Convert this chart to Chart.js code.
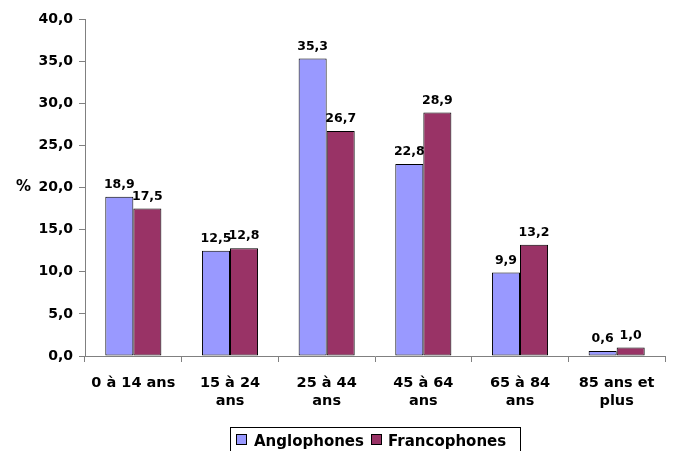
<!DOCTYPE html>
<html lang="fr">
<head>
    <meta charset="UTF-8">
    <title>Anglophones et Francophones par groupe d'âge</title>
    <script src="https://cdn.jsdelivr.net/npm/chart.js"></script>
    <style>
        html, body { margin: 0; padding: 0; background: #fff; }
        #wrap { width: 674px; height: 451px; position: relative; }
    </style>
</head>
<body>
    <div id="wrap"><canvas id="graph"></canvas></div>

    <script>
        const categories = [["0 à 14 ans"], ["15 à 24", "ans"], ["25 à 44", "ans"], ["45 à 64", "ans"], ["65 à 84", "ans"], ["85 ans et", "plus"]];
        const seriesNames = ["Anglophones", "Francophones"];
        const anglophones = [18.9, 12.5, 35.3, 22.8, 9.9, 0.6];
        const francophones = [17.5, 12.8, 26.7, 28.9, 13.2, 1.0];
        const colors = ["#9999FF", "#993366"];

        const FONT = "'DejaVu Sans', sans-serif";
        const fmt = v => v.toFixed(1).replace(".", ",");

        // value labels above bars, "%" next to the y axis, boxed legend at the bottom
        const extras = {
            id: "extras",
            afterDatasetsDraw(chart) {
                const ctx = chart.ctx;
                ctx.save();
                ctx.fillStyle = "#000";
                ctx.font = "bold 12.5px " + FONT;
                ctx.textAlign = "center";
                ctx.textBaseline = "alphabetic";
                chart.data.datasets.forEach((ds, i) => {
                    chart.getDatasetMeta(i).data.forEach((bar, j) => {
                        ctx.fillText(fmt(ds.data[j]), bar.x, bar.y - 9);
                    });
                });
                const y = chart.scales.y;
                ctx.font = "bold 15px " + FONT;
                ctx.textAlign = "left";
                ctx.textBaseline = "middle";
                ctx.fillText("%", 16, y.getPixelForValue(20));

                // legend
                ctx.strokeStyle = "#000";
                ctx.lineWidth = 1;
                ctx.strokeRect(230.5, 427.5, 290, 30);
                ctx.font = "bold 15px " + FONT;
                ctx.textBaseline = "alphabetic";
                const items = [{ box: 236, text: 254 }, { box: 371, text: 388 }];
                items.forEach((it, i) => {
                    ctx.fillStyle = colors[i];
                    ctx.fillRect(it.box + 0.5, 434.5, 10, 10);
                    ctx.strokeRect(it.box + 0.5, 434.5, 10, 10);
                    ctx.fillStyle = "#000";
                    ctx.fillText(seriesNames[i], it.text, 446);
                });
                ctx.restore();
            }
        };

        new Chart(document.getElementById("graph"), {
            type: "bar",
            data: {
                labels: categories,
                datasets: [
                    { label: seriesNames[0], data: anglophones, backgroundColor: colors[0], borderColor: "#000", borderWidth: 1, borderSkipped: false },
                    { label: seriesNames[1], data: francophones, backgroundColor: colors[1], borderColor: "#000", borderWidth: 1, borderSkipped: false }
                ]
            },
            options: {
                responsive: true,
                maintainAspectRatio: false,
                animation: false,
                datasets: { bar: { barPercentage: 1.0, categoryPercentage: 0.58 } },
                layout: { padding: { top: 19, right: 9, bottom: 25, left: 0 } },
                scales: {
                    x: {
                        grid: { display: true, drawOnChartArea: false, offset: true, tickLength: 6, color: "#808080" },
                        border: { color: "#808080" },
                        ticks: { color: "#000", font: { family: FONT, weight: "bold", size: 14.5 }, maxRotation: 0, autoSkip: false, padding: 13 },
                        afterFit(s) { s.height = 70; }
                    },
                    y: {
                        min: 0, max: 40,
                        grid: { display: true, drawOnChartArea: false, tickLength: 6, color: "#808080" },
                        border: { color: "#808080" },
                        ticks: { stepSize: 5, color: "#000", font: { family: FONT, weight: "bold", size: 14 }, padding: 6, callback: v => fmt(v) },
                        afterFit(s) { s.width = 85; }
                    }
                },
                plugins: {
                    tooltip: { enabled: false },
                    legend: { display: false }
                }
            },
            plugins: [extras]
        });
    </script>
</body>
</html>
